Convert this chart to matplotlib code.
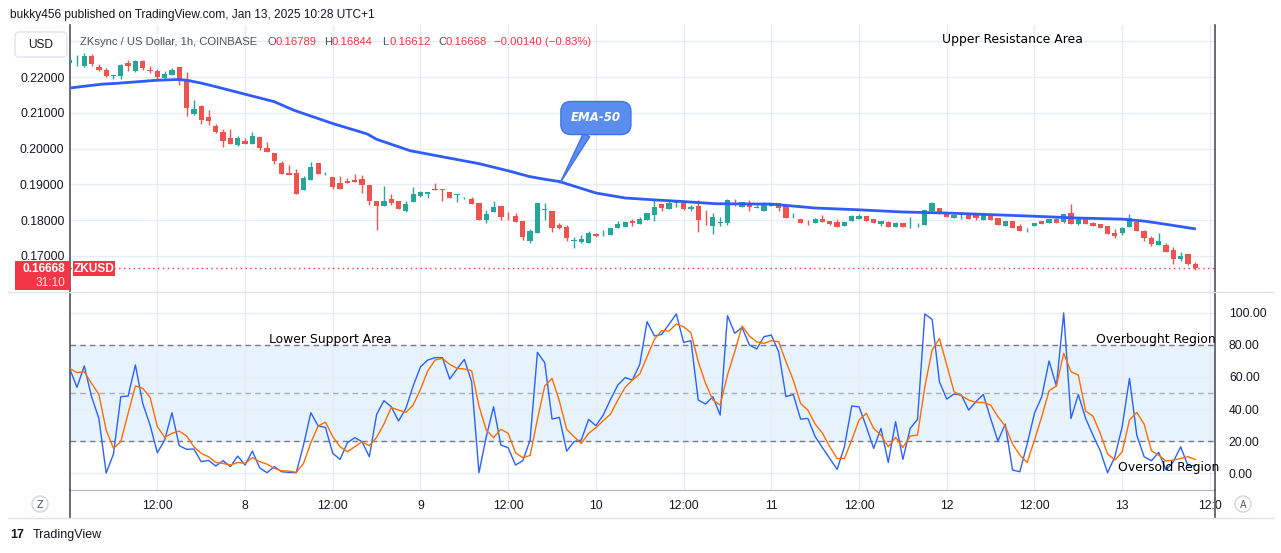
import numpy as np
import matplotlib.pyplot as plt
from matplotlib.patches import FancyBboxPatch, Rectangle, Circle

# ZKUSD 1h candles, x = hours since Jan 7 00:00 (last candle Jan 13 10:00)
opens = [0.2238, 0.2235, 0.2232, 0.2260, 0.2228, 0.2220, 0.2204, 0.2202, 0.2240, 0.2216,
         0.2246, 0.2220, 0.2216, 0.2197, 0.2207, 0.2229, 0.2191, 0.2096, 0.2119, 0.2087,
         0.2064, 0.2047, 0.2031, 0.2010, 0.2022, 0.2013, 0.2033, 0.2002, 0.1987, 0.1959,
         0.1931, 0.1931, 0.1885, 0.1913, 0.1959, 0.1925, 0.1920, 0.1904, 0.1910, 0.1912,
         0.1915, 0.1898, 0.1855, 0.1839, 0.1860, 0.1855, 0.1825, 0.1850, 0.1867, 0.1873,
         0.1886, 0.1886, 0.1878, 0.1870, 0.1861, 0.1860, 0.1849, 0.1800, 0.1822, 0.1839,
         0.1812, 0.1812, 0.1799, 0.1742, 0.1763, 0.1829, 0.1825, 0.1787, 0.1782, 0.1743,
         0.1740, 0.1735, 0.1761, 0.1763, 0.1759, 0.1777, 0.1782, 0.1799, 0.1789, 0.1801,
         0.1815, 0.1846, 0.1831, 0.1849, 0.1849, 0.1831, 0.1840, 0.1804, 0.1785, 0.1793,
         0.1792, 0.1848, 0.1838, 0.1847, 0.1835, 0.1827, 0.1841, 0.1847, 0.1840, 0.1812,
         0.1803, 0.1799, 0.1793, 0.1804, 0.1798, 0.1796, 0.1785, 0.1799, 0.1804, 0.1812,
         0.1804, 0.1788, 0.1796, 0.1782, 0.1793, 0.1786, 0.1789, 0.1787, 0.1827, 0.1835,
         0.1819, 0.1806, 0.1809, 0.1817, 0.1817, 0.1800, 0.1814, 0.1805, 0.1783, 0.1797,
         0.1783, 0.1778, 0.1783, 0.1797, 0.1793, 0.1803, 0.1795, 0.1819, 0.1789, 0.1805,
         0.1793, 0.1788, 0.1783, 0.1765, 0.1765, 0.1781, 0.1794, 0.1769, 0.1751, 0.1731,
         0.1731, 0.1717, 0.1692, 0.1706, 0.16789]
highs = [0.2250, 0.2262, 0.2268, 0.2265, 0.2237, 0.2225, 0.2206, 0.2235, 0.2248, 0.2248,
         0.2248, 0.2232, 0.2221, 0.2218, 0.2225, 0.2229, 0.2214, 0.2137, 0.2121, 0.2109,
         0.2070, 0.2056, 0.2056, 0.2036, 0.2029, 0.2045, 0.2033, 0.2018, 0.1987, 0.1966,
         0.1953, 0.1943, 0.1924, 0.1962, 0.1959, 0.1934, 0.1920, 0.1924, 0.1917, 0.1930,
         0.1927, 0.1898, 0.1855, 0.1895, 0.1872, 0.1855, 0.1853, 0.1893, 0.1881, 0.1880,
         0.1903, 0.1886, 0.1878, 0.1872, 0.1865, 0.1864, 0.1849, 0.1829, 0.1855, 0.1841,
         0.1823, 0.1820, 0.1799, 0.1776, 0.1849, 0.1848, 0.1825, 0.1793, 0.1787, 0.1752,
         0.1759, 0.1770, 0.1765, 0.1773, 0.1777, 0.1798, 0.1795, 0.1803, 0.1810, 0.1820,
         0.1856, 0.1846, 0.1855, 0.1857, 0.1855, 0.1843, 0.1857, 0.1829, 0.1821, 0.1808,
         0.1860, 0.1860, 0.1851, 0.1857, 0.1847, 0.1850, 0.1849, 0.1847, 0.1840, 0.1820,
         0.1803, 0.1801, 0.1807, 0.1815, 0.1798, 0.1803, 0.1796, 0.1815, 0.1818, 0.1812,
         0.1804, 0.1798, 0.1798, 0.1795, 0.1793, 0.1810, 0.1792, 0.1829, 0.1852, 0.1835,
         0.1821, 0.1814, 0.1819, 0.1817, 0.1817, 0.1816, 0.1814, 0.1805, 0.1797, 0.1797,
         0.1789, 0.1779, 0.1791, 0.1797, 0.1803, 0.1807, 0.1816, 0.1844, 0.1805, 0.1807,
         0.1794, 0.1789, 0.1783, 0.1775, 0.1781, 0.1817, 0.1794, 0.1772, 0.1756, 0.1765,
         0.1735, 0.1724, 0.1712, 0.1706, 0.16844]
lows = [0.2236, 0.2231, 0.2228, 0.2232, 0.2218, 0.2201, 0.2194, 0.2195, 0.2216, 0.2214,
        0.2219, 0.2212, 0.2194, 0.2195, 0.2207, 0.2177, 0.2091, 0.2094, 0.2068, 0.2066,
        0.2043, 0.2004, 0.2013, 0.2007, 0.2013, 0.2013, 0.1997, 0.1991, 0.1957, 0.1929,
        0.1927, 0.1874, 0.1885, 0.1913, 0.1929, 0.1925, 0.1888, 0.1888, 0.1905, 0.1906,
        0.1877, 0.1842, 0.1773, 0.1839, 0.1843, 0.1830, 0.1822, 0.1850, 0.1864, 0.1861,
        0.1884, 0.1853, 0.1862, 0.1850, 0.1859, 0.1845, 0.1801, 0.1793, 0.1822, 0.1801,
        0.1801, 0.1796, 0.1744, 0.1737, 0.1763, 0.1801, 0.1768, 0.1775, 0.1742, 0.1721,
        0.1737, 0.1735, 0.1752, 0.1756, 0.1759, 0.1777, 0.1782, 0.1785, 0.1789, 0.1801,
        0.1798, 0.1827, 0.1831, 0.1838, 0.1829, 0.1827, 0.1768, 0.1787, 0.1762, 0.1785,
        0.1787, 0.1841, 0.1838, 0.1827, 0.1834, 0.1827, 0.1841, 0.1827, 0.1807, 0.1807,
        0.1793, 0.1787, 0.1793, 0.1796, 0.1787, 0.1782, 0.1785, 0.1799, 0.1804, 0.1799,
        0.1791, 0.1784, 0.1782, 0.1782, 0.1780, 0.1778, 0.1780, 0.1787, 0.1827, 0.1818,
        0.1809, 0.1806, 0.1803, 0.1803, 0.1800, 0.1800, 0.1800, 0.1786, 0.1783, 0.1779,
        0.1770, 0.1768, 0.1783, 0.1789, 0.1793, 0.1793, 0.1793, 0.1789, 0.1786, 0.1789,
        0.1784, 0.1777, 0.1761, 0.1751, 0.1760, 0.1781, 0.1770, 0.1742, 0.1728, 0.1731,
        0.1712, 0.1678, 0.1687, 0.1675, 0.16612]
closes = [0.2248, 0.2237, 0.2260, 0.2235, 0.2219, 0.2202, 0.2206, 0.2234, 0.2232, 0.2246,
          0.2225, 0.2216, 0.2199, 0.2209, 0.2220, 0.2191, 0.2114, 0.2112, 0.2080, 0.2077,
          0.2047, 0.2021, 0.2013, 0.2031, 0.2013, 0.2036, 0.2002, 0.1991, 0.1966, 0.1929,
          0.1927, 0.1874, 0.1918, 0.1948, 0.1929, 0.1927, 0.1894, 0.1888, 0.1905, 0.1906,
          0.1899, 0.1853, 0.1839, 0.1855, 0.1847, 0.1830, 0.1846, 0.1872, 0.1878, 0.1880,
          0.1885, 0.1884, 0.1862, 0.1872, 0.1862, 0.1845, 0.1801, 0.1818, 0.1838, 0.1810,
          0.1811, 0.1796, 0.1752, 0.1770, 0.1849, 0.1831, 0.1779, 0.1779, 0.1751, 0.1745,
          0.1747, 0.1765, 0.1756, 0.1765, 0.1777, 0.1789, 0.1795, 0.1793, 0.1803, 0.1820,
          0.1837, 0.1835, 0.1849, 0.1857, 0.1832, 0.1838, 0.1801, 0.1803, 0.1810, 0.1795,
          0.1857, 0.1847, 0.1850, 0.1838, 0.1837, 0.1847, 0.1847, 0.1835, 0.1807, 0.1813,
          0.1793, 0.1798, 0.1804, 0.1796, 0.1790, 0.1782, 0.1796, 0.1812, 0.1812, 0.1799,
          0.1791, 0.1798, 0.1782, 0.1793, 0.1780, 0.1787, 0.1790, 0.1829, 0.1847, 0.1818,
          0.1809, 0.1814, 0.1810, 0.1803, 0.1806, 0.1814, 0.1800, 0.1786, 0.1797, 0.1779,
          0.1770, 0.1779, 0.1791, 0.1789, 0.1803, 0.1793, 0.1816, 0.1789, 0.1805, 0.1789,
          0.1784, 0.1777, 0.1761, 0.1756, 0.1779, 0.1805, 0.1770, 0.1749, 0.1733, 0.1742,
          0.1712, 0.1691, 0.1700, 0.1678, 0.16668]
hours = np.arange(len(closes))

# EMA-50
ema_hours = [0.3, 4.4, 6.2, 12, 14.8, 16, 18, 19.8, 24, 28, 30.7, 36, 40.7, 42, 46.6,
             52.6, 56, 60, 62.9, 65.1, 67, 72, 76, 80.6, 84, 88.4, 96, 102, 108, 113.9,
             120, 132, 138, 144, 147.2, 150.8, 153.9]
ema_vals = [0.2170, 0.2180, 0.2182, 0.2191, 0.2193, 0.2191, 0.2183, 0.2174, 0.2152, 0.2131,
            0.2107, 0.2070, 0.2041, 0.2026, 0.1994, 0.1971, 0.1958, 0.1938, 0.1922, 0.1914,
            0.1908, 0.1876, 0.1862, 0.1856, 0.1852, 0.1846, 0.1845, 0.1834, 0.1829, 0.1823,
            0.1820, 0.1811, 0.1806, 0.1803, 0.1797, 0.1786, 0.1776]

# Stochastic %K / %D
stoch_k = [65.4, 53.5, 66.9, 47.7, 34.1, 0.0, 11.9, 47.7, 48.1, 67.5,
           43.5, 30.0, 12.7, 20.6, 37.7, 17.1, 14.8, 15.0, 7.1, 7.9,
           4.4, 7.7, 4.0, 10.6, 5.0, 13.7, 3.3, 0.2, 4.0, 0.8,
           0.4, 0.2, 17.5, 37.7, 29.4, 28.5, 12.3, 8.5, 18.9, 22.1,
           19.6, 10.2, 36.6, 45.2, 41.4, 32.5, 40.4, 54.4, 66.4, 70.6,
           72.1, 72.1, 58.7, 65.0, 71.0, 57.0, 0.2, 22.7, 41.4, 17.5,
           15.8, 5.0, 7.7, 20.6, 75.4, 68.9, 33.7, 34.8, 13.7, 19.6,
           20.6, 33.5, 29.6, 36.2, 46.0, 55.0, 59.6, 58.1, 67.9, 94.6,
           85.6, 86.6, 92.9, 99.4, 81.6, 82.7, 45.6, 43.1, 47.7, 36.2,
           98.3, 87.3, 91.0, 80.0, 77.5, 85.2, 86.2, 75.8, 47.7, 49.1,
           33.7, 34.1, 22.7, 15.8, 9.1, 2.3, 16.4, 41.9, 41.4, 28.9,
           15.4, 27.9, 6.6, 32.1, 8.5, 27.9, 33.5, 99.4, 96.0, 57.0,
           46.2, 49.4, 48.7, 39.3, 44.6, 49.1, 34.1, 20.0, 30.6, 1.9,
           0.8, 18.1, 37.3, 47.7, 70.0, 54.4, 100.0, 34.1, 49.1, 34.1,
           23.7, 13.9, 0.2, 10.2, 28.9, 59.1, 23.7, 10.2, 7.7, 12.9,
           1.9, 7.1, 16.4, 4.6, 4.6]
stoch_d = [65.4, 62.7, 63.3, 56.0, 49.1, 26.8, 15.4, 19.6, 37.3, 54.4,
           52.9, 47.3, 29.0, 22.3, 24.8, 26.2, 23.1, 16.4, 12.3, 10.2,
           6.6, 6.0, 5.0, 6.6, 6.0, 9.6, 7.1, 5.6, 2.9, 1.4,
           1.2, 0.4, 6.0, 18.9, 29.4, 31.8, 22.7, 16.4, 13.3, 16.4,
           19.6, 17.1, 22.3, 30.6, 41.0, 39.3, 37.9, 42.5, 52.3, 63.9,
           70.6, 71.6, 67.9, 65.4, 65.0, 63.9, 41.9, 26.8, 22.1, 27.3,
           24.8, 12.7, 9.6, 11.0, 33.5, 54.4, 59.1, 45.0, 27.3, 22.7,
           18.5, 24.8, 28.3, 32.7, 36.8, 45.6, 53.5, 58.1, 61.9, 72.7,
           83.5, 88.9, 88.7, 93.1, 91.4, 87.7, 69.6, 56.0, 45.6, 42.5,
           61.2, 75.8, 91.9, 85.6, 82.0, 81.0, 82.7, 82.0, 69.6, 58.1,
           43.5, 39.3, 30.6, 24.8, 16.4, 9.1, 9.1, 20.6, 33.1, 37.3,
           27.9, 23.7, 16.4, 22.3, 16.0, 23.1, 23.7, 53.9, 76.9, 84.1,
           67.5, 50.8, 48.3, 45.6, 44.1, 44.1, 42.5, 35.2, 29.4, 18.1,
           11.2, 6.6, 20.6, 35.2, 51.4, 54.4, 74.8, 63.3, 61.2, 38.7,
           35.6, 24.8, 11.9, 8.1, 13.3, 33.1, 37.9, 30.6, 13.9, 11.2,
           7.5, 8.1, 9.1, 10.2, 8.5]

price_ticks = [0.17, 0.18, 0.19, 0.20, 0.21, 0.22, 0.23]
stoch_ticks = [0, 20, 40, 60, 80, 100]
time_ticks = [12, 24, 36, 48, 60, 72, 84, 96, 108, 120, 132, 144, 156]
time_labels = ["12:00", "8", "12:00", "9", "12:00", "10", "12:00", "11",
               "12:00", "12", "12:00", "13", "12:0"]

UP, DOWN = '#26a69a', '#ef5350'
GRID = '#e8edf3'
TXT = '#131722'

W, H = 1281, 553
fig = plt.figure(figsize=(W / 100, H / 100), dpi=100)
fig.patch.set_facecolor('white')


def frac(x0, y0, x1, y1):
    return [x0 / W, 1 - y1 / H, (x1 - x0) / W, (y1 - y0) / H]


def ftext(x, y, s, **kw):
    return fig.text(x / W, 1 - y / H, s, **kw)


ax = fig.add_axes(frac(70, 25, 1215, 292))
ax2 = fig.add_axes(frac(70, 292, 1215, 490), sharex=ax)

# --- price panel
o = np.array(opens)
c = np.array(closes)
cols = np.where(c >= o, UP, DOWN)
ax.vlines(hours, lows, highs, colors=cols, lw=1, zorder=3)
ax.bar(hours, np.maximum(np.abs(c - o), 0.00004), bottom=np.minimum(o, c),
       width=0.72, color=cols, linewidth=0, zorder=3)
ax.plot(ema_hours, ema_vals, color='#2f5cff', lw=2, zorder=4,
        solid_joinstyle='round')
ax.axhline(closes[-1], color='#f23645', lw=1, ls=(0, (1, 2.5)), zorder=2)

ax.set_xlim(0.05, 156.7)
ax.set_ylim(0.15994, 0.23453)
ax.set_xticks(time_ticks)
ax.set_yticks(price_ticks)
ax.set_yticklabels([f"{v:.5f}" for v in price_ticks[:-1]] + [""])
ax.grid(color=GRID, lw=1, zorder=0)
ax.tick_params(axis='x', labelbottom=False, length=0)
ax.tick_params(axis='y', length=0, pad=4, labelsize=8.7, labelcolor=TXT)

ax.annotate('EMA-50', xy=(67.1, 0.1904), xytext=(72.0, 0.20855),
            ha='center', va='center', color='white', fontsize=8.5,
            fontweight='bold', fontstyle='italic',
            bbox=dict(boxstyle='round,pad=0.85', fc='#5b8def', ec='#3f74ea', lw=1),
            arrowprops=dict(arrowstyle='wedge,tail_width=0.6', fc='#5b8def',
                            ec='#3f74ea', shrinkA=0, shrinkB=0),
            zorder=6)

# --- stochastic panel
ax2.axhspan(20, 80, color='#e6f3fd', lw=0, zorder=0)
ax2.axhline(80, color='#787b86', lw=1, ls=(0, (4, 3)), zorder=2)
ax2.axhline(20, color='#787b86', lw=1, ls=(0, (4, 3)), zorder=2)
ax2.axhline(50, color='#a9acb5', lw=1, ls=(0, (4, 3)), zorder=2)
ax2.plot(hours, stoch_k, color='#2962ff', lw=1, zorder=4)
ax2.plot(hours, stoch_d, color='#ff6d00', lw=1, zorder=4)
ax2.set_ylim(-10.6, 113.1)
ax2.set_yticks(stoch_ticks)
ax2.set_yticklabels([f"{v:.2f}" for v in stoch_ticks])
ax2.yaxis.tick_right()
ax2.set_xticks(time_ticks)
ax2.set_xticklabels(time_labels)
ax2.grid(color=GRID, lw=1, zorder=1)
ax2.tick_params(axis='y', length=0, pad=10, labelsize=8.7, labelcolor=TXT)
ax2.tick_params(axis='x', length=0, pad=7, labelsize=8.7, labelcolor=TXT)

for a in (ax, ax2):
    a.set_axisbelow(True)
    a.spines['top'].set_visible(False)
    for s in ('left', 'right'):
        a.spines[s].set_color('#50535e')
        a.spines[s].set_linewidth(1.2)
ax.spines['bottom'].set_color('#e0e3eb')
ax2.spines['bottom'].set_color('#b2b5be')

for lab in ax.get_yticklabels() + ax2.get_yticklabels() + ax2.get_xticklabels():
    lab.set_family('Liberation Sans')

# --- header and annotations
ftext(10, 15, "bukky456 published on TradingView.com, Jan 13, 2025 10:28 UTC+1",
      fontsize=8.6, family='Liberation Sans', color=TXT, va='center')
hdr = [(80, "ZKsync / US Dollar, 1h, COINBASE", '#50535e'),
       (267, "O", '#50535e'), (275, "0.16789", '#f23645'),
       (324, "H", '#50535e'), (332, "0.16844", '#f23645'),
       (382, "L", '#50535e'), (389, "0.16612", '#f23645'),
       (438, "C", '#50535e'), (446, "0.16668", '#f23645'),
       (494, "\u22120.00140 (\u22120.83%)", '#f23645')]
for x, s, col in hdr:
    ftext(x, 42, s, fontsize=8.1, family='Liberation Sans', color=col, va='center')

ftext(942, 40, "Upper Resistance Area", fontsize=8.9, color='black', va='center')
ftext(269, 339, "Lower Support Area", fontsize=8.9, color='black', va='center')
ftext(1096, 339, "Overbought Region", fontsize=8.9, color='black', va='center')
ftext(1118, 468, "Oversold Region", fontsize=8.9, color='black', va='center')

# --- chrome drawn in pixel space
ov = fig.add_axes([0, 0, 1, 1], zorder=10)
ov.set_xlim(0, W)
ov.set_ylim(H, 0)
ov.axis('off')
ov.patch.set_alpha(0)
ov.add_patch(FancyBboxPatch((15, 32), 52, 25, boxstyle='round,pad=0,rounding_size=4',
                            fc='white', ec='#e0e3eb', lw=1))
ov.text(41, 45, "USD", ha='center', va='center', fontsize=8.6,
        family='Liberation Sans', color=TXT)
ov.add_patch(Rectangle((15, 261), 55, 29, fc='#f23645', ec='none'))
ov.add_patch(Rectangle((73, 261), 42, 15, fc='#f23645', ec='none'))
ov.text(65, 268.5, "0.16668", ha='right', va='center', fontsize=8.6, color='white',
        fontweight='bold', family='Liberation Sans')
ov.text(65, 283, "31:10", ha='right', va='center', fontsize=8.6, color='#fde3e5',
        family='Liberation Sans')
ov.text(94, 268.5, "ZKUSD", ha='center', va='center', fontsize=8.6, color='white',
        fontweight='bold', family='Liberation Sans')
ov.plot([8, 1273], [292, 292], color='#e0e3eb', lw=1)
ov.plot([70, 70], [490, 518], color='#50535e', lw=1.2)
ov.plot([1215, 1215], [490, 518], color='#50535e', lw=1.2)
ov.plot([8, 1273], [518, 518], color='#e0e3eb', lw=1)
for cx, s in ((40, "Z"), (1243, "A")):
    ov.add_patch(Circle((cx, 504), 8, fc='white', ec='#d1d4dc', lw=1))
    ov.text(cx, 504.5, s, ha='center', va='center', fontsize=7, color='#50535e')
ov.text(10, 535, "17", ha='left', va='center', fontsize=9, fontweight='bold',
        family='Liberation Sans', color=TXT)
ov.text(33, 535, "TradingView", ha='left', va='center', fontsize=9,
        family='Liberation Sans', color=TXT)

fig.savefig('out.png', dpi=100)
